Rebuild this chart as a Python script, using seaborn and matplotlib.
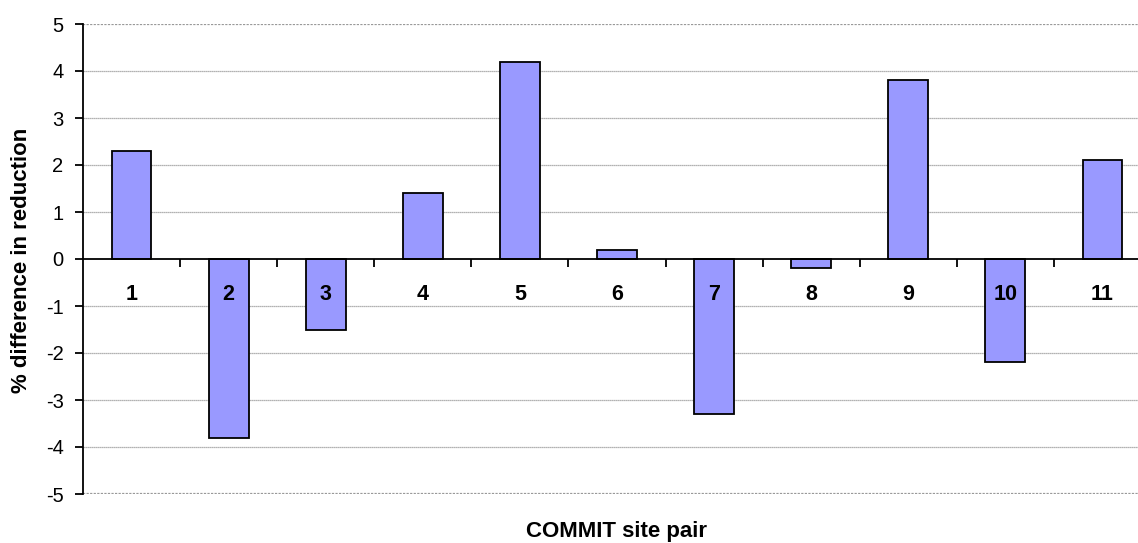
import matplotlib
matplotlib.use("Agg")
import matplotlib.pyplot as plt
from matplotlib.ticker import FixedLocator
import pandas as pd
import seaborn as sns

site_pairs = ["1", "2", "3", "4", "5", "6", "7", "8", "9", "10", "11"]
pct_difference = [2.3, -3.8, -1.5, 1.4, 4.2, 0.2, -3.3, -0.2, 3.8, -2.2, 2.1]
y_ticks = [5, 4, 3, 2, 1, 0, -1, -2, -3, -4, -5]

df = pd.DataFrame({"pair": site_pairs, "diff": pct_difference})

sns.set_theme(style="white")
plt.rcParams["font.family"] = ["Liberation Sans", "DejaVu Sans"]

W, H = 1138, 543
fig = plt.figure(figsize=(W / 100, H / 100), dpi=100)
# plot area runs slightly past the right edge of the canvas
left, right, top, bottom = 83, 1151, 24, 494
ax = fig.add_axes([left / W, 1 - bottom / H, (right - left) / W, (bottom - top) / H])

sns.barplot(data=df, x="pair", y="diff", order=site_pairs, color="#9999FF",
            saturation=1, width=0.41, edgecolor="black", linewidth=1.3,
            ax=ax, zorder=2)

ax.set_xlim(-0.5, len(site_pairs) - 0.5)
ax.set_ylim(-5, 5)
# axis (spines, ticks, labels) drawn above the bars
ax.set_axisbelow(False)

# horizontal gridlines
for yv in y_ticks:
    if yv == 0:
        continue
    lw = 1.6 if abs(yv) == 5 else 0.9
    ax.axhline(yv, color="#999999", lw=lw, ls=(0, (1, 0.6)), zorder=1)

# spines: left axis and horizontal axis at zero
for s in ("top", "right"):
    ax.spines[s].set_visible(False)
ax.spines["bottom"].set_position(("data", 0))
ax.spines["bottom"].set_color("black")
ax.spines["bottom"].set_linewidth(1.3)
ax.spines["left"].set_color("black")
ax.spines["left"].set_linewidth(1.3)

# category labels under the zero line, tick marks on category boundaries
ax.set_xticks(range(len(site_pairs)))
ax.set_xticklabels(site_pairs, fontsize=15.5, fontweight="bold", color="black")
ax.tick_params(axis="x", which="major", length=0, pad=18)
ax.xaxis.set_minor_locator(FixedLocator([i + 0.5 for i in range(len(site_pairs) - 1)]))
ax.tick_params(axis="x", which="minor", length=6, width=1.3, direction="out",
               color="black", bottom=True)

ax.set_yticks(y_ticks)
ax.set_yticklabels([str(v) for v in y_ticks], fontsize=14.5, color="black")
ax.tick_params(axis="y", length=6, width=1.3, direction="out", color="black",
               left=True, pad=8)

ax.set_xlabel("")
ax.set_ylabel("")
fig.text(22 / W, 1 - 260 / H, "% difference in reduction", rotation=90,
         ha="center", va="center", fontsize=16, fontweight="bold", color="black")
fig.text(617 / W, 1 - 532 / H, "COMMIT site pair", ha="center", va="center",
         fontsize=16, fontweight="bold", color="black")

fig.savefig("out.png", dpi=100, facecolor="white")
